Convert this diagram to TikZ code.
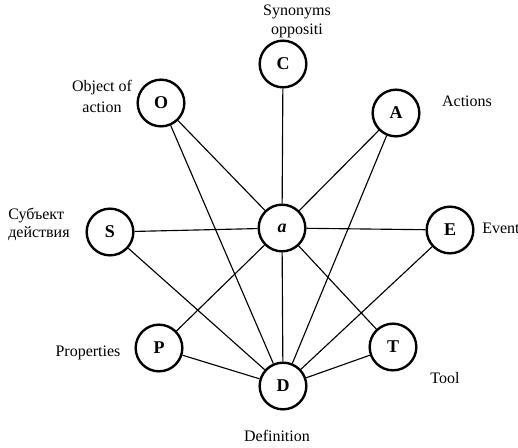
\documentclass[tikz,border=0pt]{standalone}
\usepackage{fontspec}
\setmainfont{Liberation Serif}
\begin{document}
\begin{tikzpicture}[x=0.75pt,y=-0.75pt,
  concept/.style={circle,draw,line width=1.8pt,minimum size=35pt,inner sep=0pt,
    font=\fontsize{13.5}{15}\selectfont\bfseries},
  link/.style={line width=0.85pt},
  caption/.style={inner sep=0pt,font=\fontsize{12}{14}\selectfont}]
\useasboundingbox (0,0) rectangle (518,447);

% concept nodes
\node[concept] (C) at (283,64) {C};
\node[concept] (O) at (161,103) {O};
\node[concept] (A) at (396,113) {A};
\node[concept] (S) at (110,232) {S};
\node[concept] (a) at (282,228) {\itshape a};
\node[concept] (E) at (450,230) {E};
\node[concept] (P) at (159,348) {P};
\node[concept] (T) at (393,347) {T};
\node[concept] (D) at (283,386) {D};

% links
\draw[link] (C) -- (a);
\draw[link] (O) -- (a);
\draw[link] (O) -- (D);
\draw[link] (A) -- (a);
\draw[link] (A) -- (D);
\draw[link] (S) -- (a);
\draw[link] (S) -- (D);
\draw[link] (a) -- (E);
\draw[link] (E) -- (D);
\draw[link] (P) -- (a);
\draw[link] (P) -- (D);
\draw[link] (a) -- (T);
\draw[link] (T) -- (D);
\draw[link] (a) -- (D);

% captions
\node[caption] (c1) at (297,12) {Synonyms};
\node[caption] (c2) at (297,31) {oppositi};
\node[caption] (o1) at (102,88) {Object of};
\node[caption] (o2) at (102,107) {action};
\node[caption] (ac) at (467,101) {Actions};
\node[caption,anchor=west] (s1) at (8,215) {Субъект};
\node[caption,anchor=west] (s2) at (8,234) {действия};
\node[caption,anchor=west] (ev) at (482,228) {Event};
\node[caption] (pr) at (88,353) {Properties};
\node[caption] (tl) at (445,378) {Tool};
\node[caption] (df) at (277,436) {Definition};
\end{tikzpicture}
\end{document}
